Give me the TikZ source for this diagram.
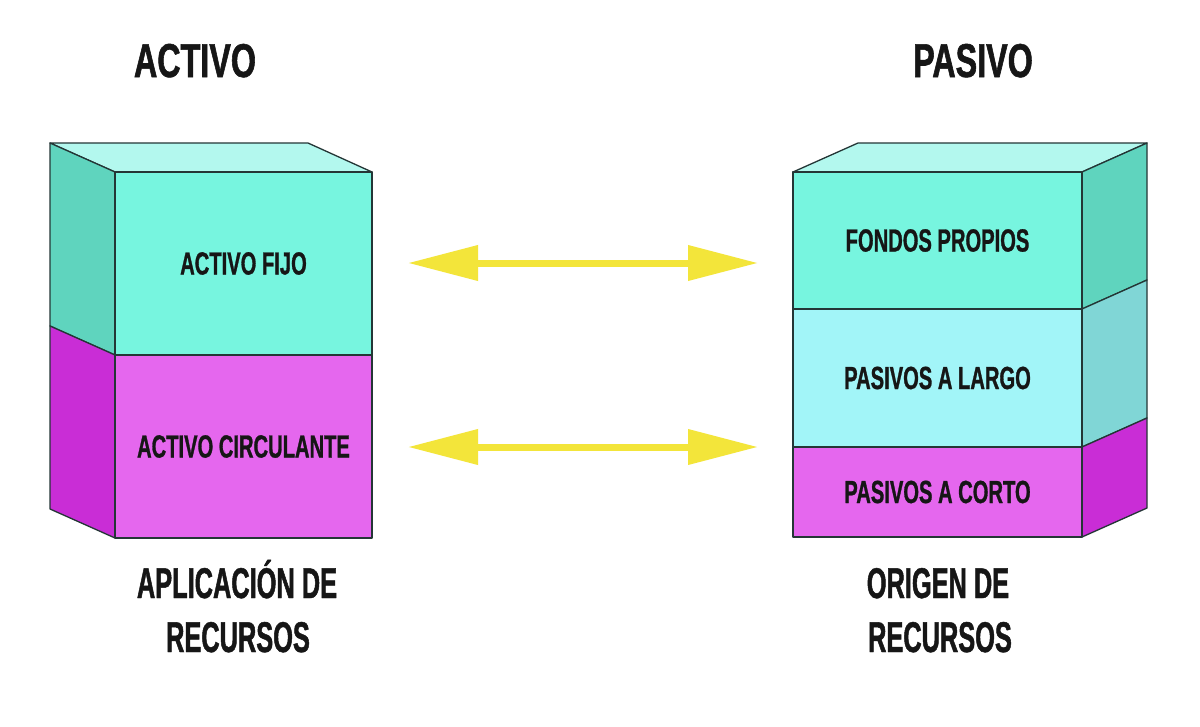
\documentclass[tikz,border=0pt]{standalone}
\usepackage{fontspec}
\usetikzlibrary{arrows.meta}
\newfontfamily\titlefont[FakeStretch=0.68,FakeBold=1.2]{Liberation Sans}
\newfontfamily\bottomfont[FakeStretch=0.59,FakeBold=1.1]{Liberation Sans}
\newfontfamily\innerfont[FakeStretch=0.63,FakeBold=0.9]{Liberation Sans}
\definecolor{tealfront}{HTML}{77F5DF}
\definecolor{tealtop}{HTML}{B3F8EE}
\definecolor{tealside}{HTML}{5FD4BE}
\definecolor{magfront}{HTML}{E567EE}
\definecolor{magside}{HTML}{C92DD6}
\definecolor{cyanfront}{HTML}{A2F5F8}
\definecolor{cyanside}{HTML}{80D6D6}
\definecolor{edge}{HTML}{243636}
\definecolor{arrowyellow}{HTML}{F3E53A}
\definecolor{ink}{HTML}{161616}
\tikzset{
  face/.style={draw=edge, line width=1.3pt, line join=round},
  frontface/.style={face, rectangle, inner sep=0pt, text=ink, font=\innerfont\bfseries\fontsize{32}{36}\selectfont},
  title/.style={text=ink, inner sep=0pt, font=\titlefont\bfseries\fontsize{47.5}{54}\selectfont},
  caption/.style={text=ink, inner sep=0pt, font=\bottomfont\bfseries\fontsize{43}{50}\selectfont},
  yellowarrow/.style={draw=arrowyellow, line width=7pt, {Triangle[length=70pt 0, width=34pt 0]}-{Triangle[length=70pt 0, width=34pt 0]}}
}
\begin{document}
\begin{tikzpicture}[x=1pt, y=-1pt]
\useasboundingbox (0,0) rectangle (1200,726);
\fill[white] (0,0) rectangle (1200,726);

% ---------- left box (ACTIVO) ----------
\draw[face, fill=tealtop] (50,143) -- (308,143) -- (372,172) -- (115,172) -- cycle;
\draw[face, fill=tealside] (50,143) -- (115,172) -- (115,355) -- (50,326) -- cycle;
\draw[face, fill=magside] (50,326) -- (115,355) -- (115,538) -- (50,509) -- cycle;
\node[frontface, fill=tealfront, minimum width=257pt, minimum height=183pt] (fijo) at (243.5,263.5) {ACTIVO FIJO};
\node[frontface, fill=magfront, minimum width=257pt, minimum height=183pt] (circ) at (243.5,446.5) {ACTIVO CIRCULANTE};

% ---------- right box (PASIVO) ----------
\draw[face, fill=tealtop] (793,172) -- (858,143) -- (1147,143) -- (1082,172) -- cycle;
\draw[face, fill=tealside] (1082,172) -- (1147,143) -- (1147,280) -- (1082,309) -- cycle;
\draw[face, fill=cyanside] (1082,309) -- (1147,280) -- (1147,418) -- (1082,447) -- cycle;
\draw[face, fill=magside] (1082,447) -- (1147,418) -- (1147,508) -- (1082,537) -- cycle;
\node[frontface, fill=tealfront, minimum width=289pt, minimum height=137pt] (fondos) at (937.5,240.5) {FONDOS PROPIOS};
\node[frontface, fill=cyanfront, minimum width=289pt, minimum height=138pt] (largo) at (937.5,378) {PASIVOS A LARGO};
\node[frontface, fill=magfront, minimum width=289pt, minimum height=90pt] (corto) at (937.5,492) {PASIVOS A CORTO};

% ---------- titles ----------
\node[title, anchor=base] (activo) at (195,77) {ACTIVO};
\node[title, anchor=base] (pasivo) at (973,77) {PASIVO};

% ---------- captions ----------
\node[caption, anchor=base] (aplic) at (237,598) {APLICACIÓN DE};
\node[caption, anchor=base] (recl) at (238,652) {RECURSOS};
\node[caption, anchor=base] (origen) at (938,598) {ORIGEN DE};
\node[caption, anchor=base] (recr) at (940,652) {RECURSOS};

% ---------- arrows ----------
\coordinate (a1l) at (408,263);
\coordinate (a1r) at (758,263);
\coordinate (a2l) at (408,447);
\coordinate (a2r) at (758,447);
\draw[yellowarrow] (a1l) -- (a1r);
\draw[yellowarrow] (a2l) -- (a2r);
\end{tikzpicture}
\end{document}
